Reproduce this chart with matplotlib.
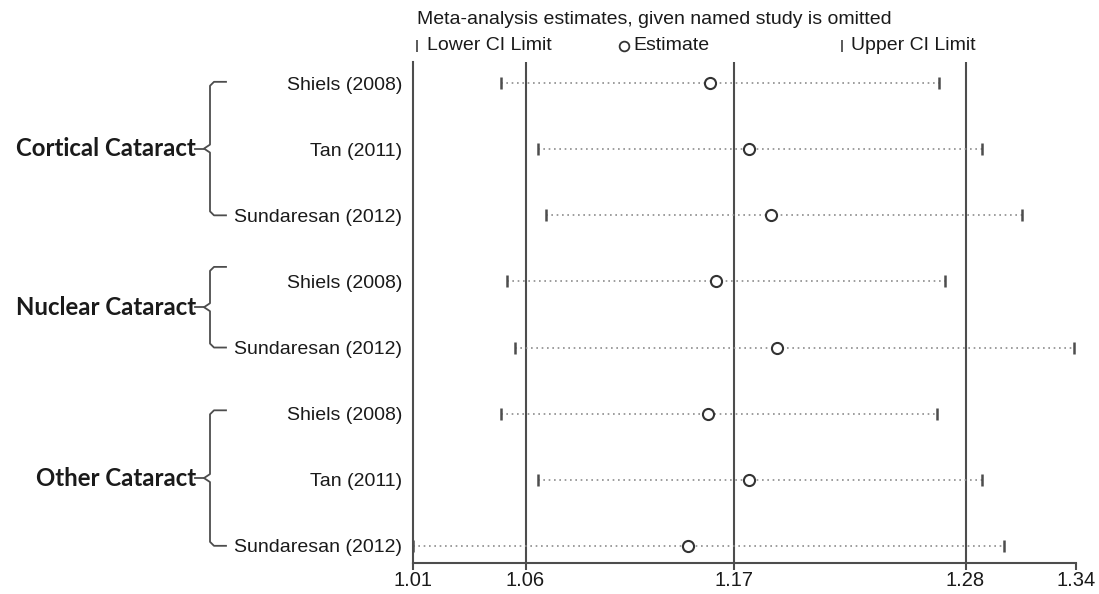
import numpy as np
import matplotlib
matplotlib.use("Agg")
import matplotlib.pyplot as plt
from matplotlib.lines import Line2D
from matplotlib.transforms import blended_transform_factory

plt.rcParams["font.family"] = ["Liberation Sans", "DejaVu Sans"]

# omitted-study rows, top to bottom
studies  = ["Shiels (2008)", "Tan (2011)", "Sundaresan (2012)",
            "Shiels (2008)", "Sundaresan (2012)",
            "Shiels (2008)", "Tan (2011)", "Sundaresan (2012)"]
groups   = ["Cortical Cataract"] * 3 + ["Nuclear Cataract"] * 2 + ["Other Cataract"] * 3
lower    = [1.051, 1.069, 1.073, 1.054, 1.058, 1.051, 1.069, 1.007]
estimate = [1.155, 1.174, 1.185, 1.158, 1.188, 1.154, 1.174, 1.144]
upper    = [1.269, 1.290, 1.310, 1.272, 1.336, 1.268, 1.290, 1.301]

# overall lower CI, estimate, upper CI (reference lines)
overall     = [1.063, 1.167, 1.282]
tick_values = [1.007, 1.063, 1.167, 1.282, 1.337]
tick_labels = ["1.01", "1.06", "1.17", "1.28", "1.34"]

LINE = "#4d4d4d"
DOT  = "#8c8c8c"
TXT  = "#1a1a1a"

W, H = 1099, 594
fig = plt.figure(figsize=(W / 100, H / 100), dpi=100)
ax = fig.add_axes([413 / W, 31 / H, 663 / W, 501 / H])

y = np.arange(1, len(studies) + 1)

for yi, lo, hi in zip(y, lower, upper):
    ax.plot([lo, hi], [yi, yi], color=DOT, lw=1.2, linestyle=(0, (1, 2.2)), zorder=2)
ax.plot(lower, y, linestyle="none", marker="|", ms=9, mew=1.8, color=LINE, zorder=3, clip_on=False)
ax.plot(upper, y, linestyle="none", marker="|", ms=9, mew=1.8, color=LINE, zorder=3, clip_on=False)
ax.plot(estimate, y, linestyle="none", marker="o", ms=8, mfc="white", mec="#333333", mew=1.5, zorder=4)

for v in overall:
    ax.axvline(v, color=LINE, lw=1.5, zorder=1)

ax.set_xlim(tick_values[0], tick_values[-1])
ax.set_ylim(len(studies) + 0.26, 0.68)
ax.set_xticks(tick_values)
ax.set_xticklabels(tick_labels, fontsize=14.5, color=TXT)
ax.set_yticks(y)
ax.set_yticklabels(studies, fontsize=14, color=TXT)
ax.tick_params(axis="y", length=0, pad=8)
ax.tick_params(axis="x", length=5, width=1.5, color=LINE, pad=1)
for side in ["top", "right"]:
    ax.spines[side].set_visible(False)
for side in ["left", "bottom"]:
    ax.spines[side].set_color(LINE)
    ax.spines[side].set_linewidth(1.5)

# group braces
tr = blended_transform_factory(fig.transFigure, ax.transData)
px = lambda p: p / W
brace_pad = {"Cortical Cataract": 0.02, "Nuclear Cataract": 0.22, "Other Cataract": 0.05}
for g in dict.fromkeys(groups):
    rows = [yi for yi, gg in zip(y, groups) if gg == g]
    top = rows[0] - brace_pad[g]
    bot = rows[-1]
    mid = (top + bot) / 2
    c = 0.06
    xs = [226, 214, 210, 210, 204, 210, 210, 214, 226]
    ys = [top, top, top + c, mid - c, mid, mid + c, bot - c, bot, bot]
    fig.add_artist(Line2D([px(v) for v in xs], ys, transform=tr, color=LINE, lw=1.3))
    fig.add_artist(Line2D([px(195), px(204)], [mid, mid], transform=tr, color=LINE, lw=1.3))
    fig.text(px(196), mid, g, transform=tr, ha="right", va="center",
             fontsize=17.3, fontweight="bold", family=["Lato", "DejaVu Sans"], color=TXT)

# legend / header
fig.text(px(417), 1 - 19 / H, "Meta-analysis estimates, given named study is omitted",
         ha="left", va="center", fontsize=14, color=TXT)
ly = 1 - 46 / H
fig.add_artist(Line2D([px(417)], [ly], marker="|", ms=8, mew=1.3, color=LINE))
fig.text(px(427), ly, "Lower CI Limit", ha="left", va="center", fontsize=14, color=TXT)
fig.add_artist(Line2D([px(624)], [ly], marker="o", ms=7, mfc="white", mec="#333333", mew=1.3))
fig.text(px(633), ly, "Estimate", ha="left", va="center", fontsize=14, color=TXT)
fig.add_artist(Line2D([px(842)], [ly], marker="|", ms=8, mew=1.3, color=LINE))
fig.text(px(851), ly, "Upper CI Limit", ha="left", va="center", fontsize=14, color=TXT)

fig.savefig("out.png", dpi=100)
